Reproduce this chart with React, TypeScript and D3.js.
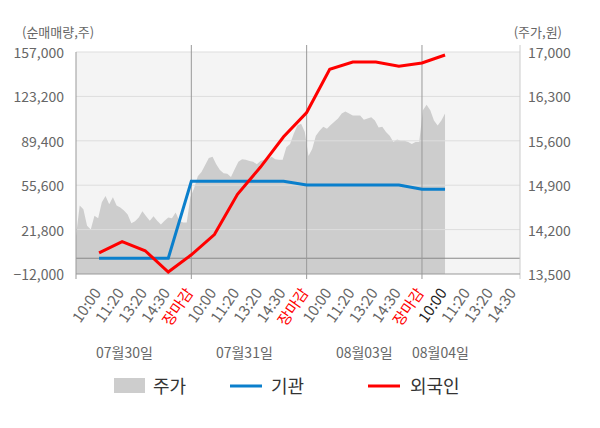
import { useEffect, useRef } from "react";
import * as d3 from "d3";

// x-axis categories (per trading day)
const dayLabels = ["07월30일", "07월31일", "08월03일", "08월04일"];
const timeLabels = ["10:00", "11:20", "13:20", "14:30", "장마감"];

// left axis ticks (순매매량) and right axis ticks (주가)
const volumeTicks = [-12000, 21800, 55600, 89400, 123200, 157000];
const priceTicks = [13500, 14200, 14900, 15600, 16300, 17000];

// net buying by slot (one per time label, from 07/30 10:00 to 08/04 10:00)
const institution = [
  0, 0, 0, 0, 58600, 58600, 58600, 58600, 58600, 55700, 55700, 55700, 55700,
  55700, 52500, 52500,
];
const foreign = [
  4100, 12600, 5700, -10500, 2600, 18000, 48700, 69400, 92500, 110900, 143900,
  149300, 149300, 146200, 148600, 154700,
];

// intraday price (evenly sampled)
const price = [
  14100, 14580, 14520, 14260, 14200, 14420, 14380, 14630, 14730, 14600, 14710,
  14580, 14550, 14500, 14440, 14300, 14330, 14390, 14490, 14410, 14340, 14410,
  14340, 14280, 14340, 14390, 14380, 14470, 14340, 14310, 14310, 14710, 14850,
  15040, 15110, 15220, 15330, 15350, 15230, 15140, 15090, 15080, 15030, 15150,
  15270, 15310, 15300, 15280, 15270, 15230, 15280, 15300, 15310, 15350, 15310,
  15300, 15300, 15500, 15550, 15710, 15840, 15870, 15740, 15360, 15470, 15680,
  15760, 15820, 15790, 15850, 15900, 15950, 16030, 16060, 16030, 16000, 16000,
  16000, 15930, 15950, 15970, 15920, 15810, 15820, 15740, 15680, 15580, 15620,
  15600, 15600, 15580, 15550, 15580, 15580, 16080, 16170, 16080, 15920, 15840,
  15920, 16030,
];

const FONT = "'Noto Sans CJK KR', 'Noto Sans', sans-serif";

export default function App() {
  const ref = useRef<SVGSVGElement>(null);

  useEffect(() => {
    if (!ref.current) return;
    const svg = d3.select(ref.current);
    svg.selectAll("*").remove();

    const width = 600;
    const height = 428;
    const left = 76;
    const right = 520;
    const top = 52;
    const bottom = 274;
    const slotsPerDay = timeLabels.length;
    const priceStep = 0.16;

    svg.attr("width", width).attr("height", height).style("font-family", FONT);

    const x = d3.scaleLinear().domain([0, 19.25]).range([left, right]);
    const yVol = d3
      .scaleLinear()
      .domain([volumeTicks[0], volumeTicks[volumeTicks.length - 1]])
      .range([bottom, top]);
    const yPrice = d3
      .scaleLinear()
      .domain([priceTicks[0], priceTicks[priceTicks.length - 1]])
      .range([bottom, top]);

    // plot background
    svg
      .append("rect")
      .attr("x", left)
      .attr("y", top)
      .attr("width", right - left)
      .attr("height", bottom - top)
      .attr("fill", "#f4f4f4");

    // price area
    const area = d3
      .area<number>()
      .x((_, i) => x(i * priceStep))
      .y0(bottom)
      .y1((d) => yPrice(d));
    svg.append("path").datum(price).attr("d", area).attr("fill", "#cdcdcd");

    // horizontal grid
    svg
      .append("g")
      .selectAll("line")
      .data(volumeTicks.slice(1))
      .join("line")
      .attr("x1", left)
      .attr("x2", right)
      .attr("y1", (d) => yVol(d))
      .attr("y2", (d) => yVol(d))
      .attr("stroke", "#dddddd")
      .attr("stroke-width", 1);

    // zero line
    svg
      .append("line")
      .attr("x1", left)
      .attr("x2", right)
      .attr("y1", yVol(0))
      .attr("y2", yVol(0))
      .attr("stroke", "#888")
      .attr("stroke-width", 1);

    // day separators
    const boundaries = d3.range(1, dayLabels.length).map((d) => d * slotsPerDay);
    svg
      .append("g")
      .selectAll("line")
      .data(boundaries)
      .join("line")
      .attr("x1", (d) => x(d))
      .attr("x2", (d) => x(d))
      .attr("y1", 45)
      .attr("y2", bottom + 5)
      .attr("stroke", "#999")
      .attr("stroke-width", 1);

    // axes frame
    svg
      .append("line")
      .attr("x1", left)
      .attr("x2", left)
      .attr("y1", top)
      .attr("y2", bottom + 5)
      .attr("stroke", "#999");
    svg
      .append("line")
      .attr("x1", right)
      .attr("x2", right)
      .attr("y1", 45)
      .attr("y2", bottom + 5)
      .attr("stroke", "#ccc");
    svg
      .append("line")
      .attr("x1", left)
      .attr("x2", right)
      .attr("y1", bottom)
      .attr("y2", bottom)
      .attr("stroke", "#999");

    // lines
    const line = d3
      .line<number>()
      .x((_, i) => x(i + 1))
      .y((d) => yVol(d));
    svg
      .append("path")
      .datum(institution)
      .attr("d", line)
      .attr("fill", "none")
      .attr("stroke", "#0a7fcc")
      .attr("stroke-width", 3);
    svg
      .append("path")
      .datum(foreign)
      .attr("d", line)
      .attr("fill", "none")
      .attr("stroke", "#ff0000")
      .attr("stroke-width", 3);

    // left ticks
    svg
      .append("g")
      .selectAll("text")
      .data(volumeTicks)
      .join("text")
      .attr("x", 64)
      .attr("y", (d) => yVol(d) + 6)
      .attr("text-anchor", "end")
      .attr("fill", "#666")
      .style("font-size", "14px")
      .text((d) => d3.format(",")(d));

    // right ticks
    svg
      .append("g")
      .selectAll("text")
      .data(priceTicks)
      .join("text")
      .attr("x", 528)
      .attr("y", (d) => yPrice(d) + 6)
      .attr("text-anchor", "start")
      .attr("fill", "#666")
      .style("font-size", "14px")
      .text((d) => d3.format(",")(d));

    // axis titles
    svg
      .append("text")
      .attr("x", 22)
      .attr("y", 37)
      .attr("fill", "#666")
      .style("font-size", "13px")
      .text("(순매매량,주)");
    svg
      .append("text")
      .attr("x", 562)
      .attr("y", 37)
      .attr("text-anchor", "end")
      .attr("fill", "#666")
      .style("font-size", "13px")
      .text("(주가,원)");

    // x tick labels
    const xLabels: { slot: number; text: string; color: string }[] = [];
    dayLabels.forEach((_, d) => {
      timeLabels.forEach((t, j) => {
        const slot = d * slotsPerDay + j + 1;
        if (slot > 19.25) return;
        let color = "#666";
        if (t === "장마감") color = "#ff0000";
        else if (d === dayLabels.length - 1 && j === 0) color = "#222";
        xLabels.push({ slot, text: t, color });
      });
    });
    svg
      .append("g")
      .selectAll("text")
      .data(xLabels)
      .join("text")
      .attr("transform", (d) => `translate(${x(d.slot) + 2.6},293) rotate(-55)`)
      .attr("text-anchor", "end")
      .attr("fill", (d) => d.color)
      .style("font-size", "15px")
      .text((d) => d.text);

    // date labels
    const dateSlots = [2.1, 7.3, 12.5, 15.8];
    svg
      .append("g")
      .selectAll("text")
      .data(dayLabels)
      .join("text")
      .attr("x", (_, i) => x(dateSlots[i]))
      .attr("y", 358)
      .attr("text-anchor", "middle")
      .attr("fill", "#666")
      .style("font-size", "14px")
      .text((d) => d);

    // legend
    const legend = svg.append("g");
    legend
      .append("rect")
      .attr("x", 114)
      .attr("y", 378)
      .attr("width", 31)
      .attr("height", 15)
      .attr("fill", "#cdcdcd");
    legend
      .append("text")
      .attr("x", 153)
      .attr("y", 393)
      .attr("fill", "#333")
      .style("font-size", "18px")
      .text("주가");
    legend
      .append("line")
      .attr("x1", 230)
      .attr("x2", 262)
      .attr("y1", 386)
      .attr("y2", 386)
      .attr("stroke", "#0a7fcc")
      .attr("stroke-width", 3);
    legend
      .append("text")
      .attr("x", 271)
      .attr("y", 393)
      .attr("fill", "#333")
      .style("font-size", "18px")
      .text("기관");
    legend
      .append("line")
      .attr("x1", 368)
      .attr("x2", 400)
      .attr("y1", 386)
      .attr("y2", 386)
      .attr("stroke", "#ff0000")
      .attr("stroke-width", 3);
    legend
      .append("text")
      .attr("x", 410)
      .attr("y", 393)
      .attr("fill", "#333")
      .style("font-size", "18px")
      .text("외국인");
  }, []);

  return (
    <div style={{ position: "absolute", left: 0, top: 0 }}>
      <svg ref={ref}></svg>
    </div>
  );
}
